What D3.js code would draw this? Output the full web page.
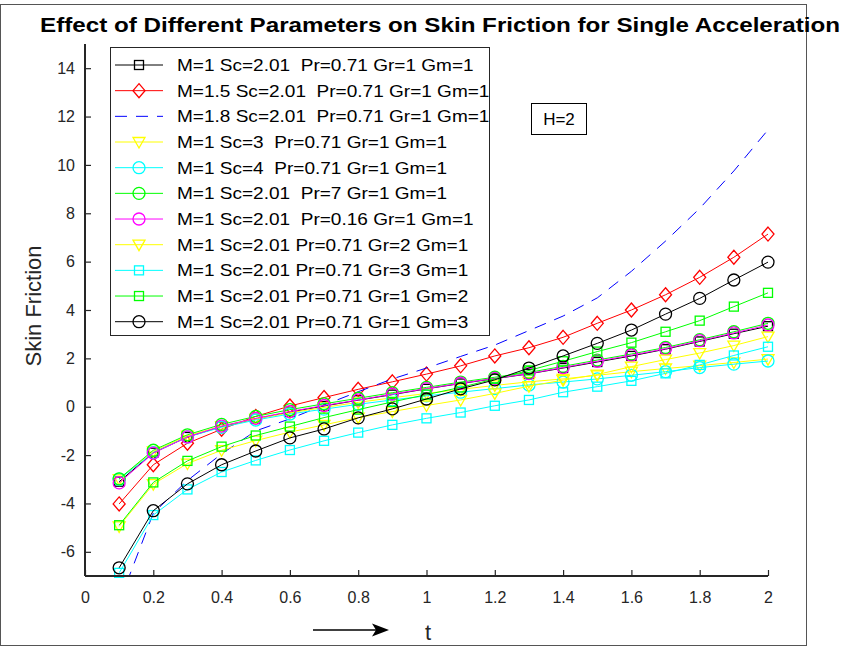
<!DOCTYPE html>
<html>
<head>
<meta charset="utf-8">
<script src="https://cdn.jsdelivr.net/npm/d3@7"></script>
<style>
  body { margin: 0; background: #fff; }
  svg { display: block; font-family: "Liberation Sans", Arial, sans-serif; }
</style>
</head>
<body>
<svg id="chart" width="842" height="648"></svg>
<script>
// data
const tValues = [0.1, 0.2, 0.3, 0.4, 0.5, 0.6, 0.7, 0.8, 0.9, 1.0,
                 1.1, 1.2, 1.3, 1.4, 1.5, 1.6, 1.7, 1.8, 1.9, 2.0];

const baseCase  = [-3.1, -1.9, -1.25, -0.82, -0.5, -0.22, 0.03, 0.27, 0.5, 0.74, 0.96, 1.16, 1.36, 1.6, 1.85, 2.1, 2.38, 2.7, 3.02, 3.33];
const m15       = [-4.02, -2.4, -1.51, -0.93, -0.4, 0.03, 0.38, 0.72, 1.03, 1.35, 1.69, 2.1, 2.44, 2.87, 3.45, 4.0, 4.63, 5.35, 6.18, 7.14];
const m18       = [-8.1, -4.4, -3.05, -1.95, -1.0, -0.5, 0.07, 0.62, 1.15, 1.6, 2.08, 2.55, 3.15, 3.75, 4.5, 5.6, 6.85, 8.2, 9.75, 11.45];
const sc3       = [-3.0, -1.85, -1.2, -0.8, -0.5, -0.25, -0.03, 0.18, 0.37, 0.55, 0.72, 0.88, 1.03, 1.15, 1.3, 1.45, 1.58, 1.7, 1.83, 1.97];
const sc4       = [-3.0, -1.9, -1.25, -0.85, -0.55, -0.3, -0.1, 0.1, 0.28, 0.45, 0.6, 0.75, 0.9, 1.02, 1.15, 1.3, 1.45, 1.62, 1.76, 1.89];
const pr7       = [-2.98, -1.8, -1.16, -0.73, -0.4, -0.12, 0.12, 0.35, 0.58, 0.8, 1.02, 1.22, 1.42, 1.67, 1.93, 2.18, 2.45, 2.77, 3.1, 3.45];
const pr016     = [-3.15, -1.92, -1.25, -0.8, -0.48, -0.2, 0.05, 0.28, 0.52, 0.75, 0.97, 1.17, 1.37, 1.62, 1.88, 2.13, 2.4, 2.73, 3.05, 3.38];
const gr2       = [-4.95, -3.2, -2.35, -1.8, -1.4, -1.05, -0.75, -0.45, -0.2, 0.05, 0.28, 0.55, 0.85, 1.1, 1.33, 1.66, 1.95, 2.22, 2.53, 2.9];
const gr3       = [-6.87, -4.48, -3.42, -2.7, -2.22, -1.79, -1.41, -1.07, -0.75, -0.48, -0.24, 0.04, 0.28, 0.6, 0.83, 1.07, 1.38, 1.73, 2.12, 2.48];
const gm2       = [-4.9, -3.13, -2.24, -1.65, -1.19, -0.82, -0.45, -0.12, 0.2, 0.5, 0.8, 1.15, 1.5, 1.88, 2.28, 2.65, 3.1, 3.56, 4.14, 4.71];
const gm3       = [-6.66, -4.3, -3.19, -2.4, -1.83, -1.29, -0.92, -0.46, -0.09, 0.32, 0.74, 1.11, 1.6, 2.1, 2.62, 3.17, 3.83, 4.48, 5.24, 5.98];

const seriesLabels = [
  'M=1 Sc=2.01  Pr=0.71 Gr=1 Gm=1',
  'M=1.5 Sc=2.01  Pr=0.71 Gr=1 Gm=1',
  'M=1.8 Sc=2.01  Pr=0.71 Gr=1 Gm=1',
  'M=1 Sc=3  Pr=0.71 Gr=1 Gm=1',
  'M=1 Sc=4  Pr=0.71 Gr=1 Gm=1',
  'M=1 Sc=2.01  Pr=7 Gr=1 Gm=1',
  'M=1 Sc=2.01  Pr=0.16 Gr=1 Gm=1',
  'M=1 Sc=2.01 Pr=0.71 Gr=2 Gm=1',
  'M=1 Sc=2.01 Pr=0.71 Gr=3 Gm=1',
  'M=1 Sc=2.01 Pr=0.71 Gr=1 Gm=2',
  'M=1 Sc=2.01 Pr=0.71 Gr=1 Gm=3'
];
const seriesValues = [baseCase, m15, m18, sc3, sc4, pr7, pr016, gr2, gr3, gm2, gm3];

const xTicks = [0, 0.2, 0.4, 0.6, 0.8, 1, 1.2, 1.4, 1.6, 1.8, 2];
const yTicks = [-6, -4, -2, 0, 2, 4, 6, 8, 10, 12, 14];

// styles (color, marker, dash) per series
const seriesStyles = [
  { color: '#000000', marker: 'square' },
  { color: '#ff0000', marker: 'diamond' },
  { color: '#0000ff', marker: 'none', dash: '12,9' },
  { color: '#ffff00', marker: 'triangle' },
  { color: '#00ffff', marker: 'circle' },
  { color: '#00ff00', marker: 'circle' },
  { color: '#ff00ff', marker: 'circle' },
  { color: '#ffff00', marker: 'triangle' },
  { color: '#00ffff', marker: 'square' },
  { color: '#00ff00', marker: 'square' },
  { color: '#000000', marker: 'circle' }
];

// configs
const PLOT = { left: 85, right: 768, top: 44, bottom: 576 };
const AXIS_COLOR = '#262626';
const FONT = '"Liberation Sans", Arial, sans-serif';

const svg = d3.select('#chart');

const x = d3.scaleLinear().domain([0, 2]).range([PLOT.left, PLOT.right]);
const y = d3.scaleLinear().domain([-7, 15]).range([PLOT.bottom, PLOT.top]);

// figure border
svg.append('rect')
  .attr('x', 0.5).attr('y', 4.5)
  .attr('width', 806).attr('height', 641)
  .attr('fill', 'none')
  .attr('stroke', '#555')
  .attr('stroke-width', 1);

// clip for lines
svg.append('defs').append('clipPath').attr('id', 'plot-clip')
  .append('rect')
  .attr('x', PLOT.left).attr('y', PLOT.top)
  .attr('width', PLOT.right - PLOT.left).attr('height', PLOT.bottom - PLOT.top);

// marker drawing
function drawMarker(g, type, color) {
  if (type === 'circle') {
    g.append('circle').attr('r', 6);
  } else if (type === 'square') {
    g.append('rect').attr('x', -4.5).attr('y', -4.5).attr('width', 9).attr('height', 9);
  } else if (type === 'diamond') {
    g.append('path').attr('d', 'M0,-7L6,0L0,7L-6,0Z');
  } else if (type === 'triangle') {
    g.append('path').attr('d', 'M-6,-4.5L6,-4.5L0,6Z');
  }
  g.selectAll('*')
    .attr('fill', 'none')
    .attr('stroke', color)
    .attr('stroke-width', 1.3);
}

const line = d3.line()
  .x((d, i) => x(tValues[i]))
  .y(d => y(d));

const seriesGroup = svg.append('g').attr('class', 'series');

seriesValues.forEach((vals, si) => {
  const st = seriesStyles[si];
  const g = seriesGroup.append('g');
  g.append('path')
    .datum(vals)
    .attr('d', line)
    .attr('fill', 'none')
    .attr('stroke', st.color)
    .attr('stroke-width', 1)
    .attr('stroke-dasharray', st.dash || null)
    .attr('clip-path', 'url(#plot-clip)');

  if (st.marker !== 'none') {
    g.selectAll('g.mk')
      .data(vals)
      .enter()
      .append('g')
      .attr('class', 'mk')
      .attr('transform', (d, i) => `translate(${x(tValues[i])},${y(d)})`)
      .each(function () { drawMarker(d3.select(this), st.marker, st.color); });
  }
});

// axes (plain hyphen minus like the original)
const fmt = d => String(d);
const xAxis = d3.axisBottom(x).tickValues(xTicks).tickSizeInner(-6).tickSizeOuter(0)
  .tickFormat(fmt).tickPadding(16);
const yAxis = d3.axisLeft(y).tickValues(yTicks).tickSizeInner(-6).tickSizeOuter(0)
  .tickFormat(fmt).tickPadding(10);

const gx = svg.append('g').attr('transform', `translate(0,${PLOT.bottom})`).call(xAxis);
const gy = svg.append('g').attr('transform', `translate(${PLOT.left},0)`).call(yAxis);

[gx, gy].forEach(g => {
  g.select('.domain').attr('stroke', AXIS_COLOR).attr('stroke-width', 2);
  g.selectAll('.tick line').attr('stroke', AXIS_COLOR).attr('stroke-width', 1.2);
  g.selectAll('.tick text')
    .attr('fill', AXIS_COLOR)
    .style('font-family', FONT)
    .style('font-size', '16px');
});
gx.select('.domain').attr('d', `M${PLOT.left},0H${PLOT.right}`);
gy.select('.domain').attr('d', `M0,${PLOT.top}V${PLOT.bottom}`);

// title
svg.append('text')
  .attr('x', 440).attr('y', 32)
  .attr('text-anchor', 'middle')
  .attr('textLength', 800)
  .attr('lengthAdjust', 'spacingAndGlyphs')
  .style('font-family', FONT)
  .style('font-size', '20px')
  .style('font-weight', 'bold')
  .attr('fill', '#000')
  .text('Effect of Different Parameters on Skin Friction for Single Acceleration');

// y label
svg.append('text')
  .attr('transform', 'translate(41,306) rotate(-90)')
  .attr('text-anchor', 'middle')
  .style('font-family', FONT)
  .style('font-size', '22px')
  .attr('fill', AXIS_COLOR)
  .text('Skin Friction');

// x label and arrow
svg.append('text')
  .attr('x', 428).attr('y', 640)
  .attr('text-anchor', 'middle')
  .style('font-family', FONT)
  .style('font-size', '22px')
  .attr('fill', AXIS_COLOR)
  .text('t');

svg.append('line')
  .attr('x1', 313).attr('x2', 376)
  .attr('y1', 630).attr('y2', 630)
  .attr('stroke', '#000').attr('stroke-width', 1.3);
svg.append('path')
  .attr('d', 'M389,630L372,623.5L376,630L372,636.5Z')
  .attr('fill', '#000');

// H=2 annotation
svg.append('rect')
  .attr('x', 531.5).attr('y', 103.5)
  .attr('width', 55).attr('height', 31)
  .attr('fill', '#fff').attr('stroke', '#000').attr('stroke-width', 1);
svg.append('text')
  .attr('x', 559).attr('y', 125)
  .attr('text-anchor', 'middle')
  .style('font-family', FONT)
  .style('font-size', '17px')
  .text('H=2');

// legend
const LEG = { x: 110, y: 47, w: 379, h: 288, row0: 65, rowStep: 25.67 };
const legend = svg.append('g').attr('class', 'legend');
legend.append('rect')
  .attr('x', LEG.x + 0.5).attr('y', LEG.y + 0.5)
  .attr('width', LEG.w).attr('height', LEG.h)
  .attr('fill', '#fff').attr('stroke', '#262626').attr('stroke-width', 1);

seriesLabels.forEach((label, i) => {
  const st = seriesStyles[i];
  const ry = LEG.row0 + i * LEG.rowStep;
  const row = legend.append('g');
  row.append('line')
    .attr('x1', 115).attr('x2', 163)
    .attr('y1', ry).attr('y2', ry)
    .attr('stroke', st.color)
    .attr('stroke-width', 1)
    .attr('stroke-dasharray', st.dash || null);
  if (st.marker !== 'none') {
    const mk = row.append('g').attr('transform', `translate(139,${ry})`);
    drawMarker(mk, st.marker, st.color);
  }
  // text is slightly stretched horizontally like the original export
  row.append('text')
    .attr('transform', `translate(177,${ry + 6}) scale(1.12,1)`)
    .attr('xml:space', 'preserve')
    .style('font-family', FONT)
    .style('font-size', '17px')
    .style('white-space', 'pre')
    .attr('fill', '#000')
    .text(label);
});
</script>
</body>
</html>
